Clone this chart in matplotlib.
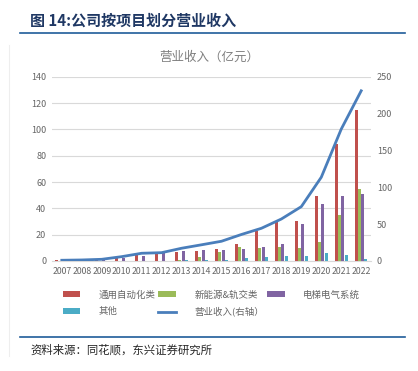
import matplotlib.pyplot as plt
import numpy as np

plt.rcParams['font.family'] = ['Noto Sans CJK SC', 'DejaVu Sans']

# data (亿元)
years = [str(y) for y in range(2007, 2023)]
automation = [0.8, 0.2, 1.0, 2.8, 4.6, 5.8, 7.1, 7.8, 9.1, 12.9, 22.6, 29.9, 30.7, 49.7, 89.0, 114.4]
new_energy = [0.0, 0.0, 0.1, 0.1, 0.2, 0.3, 1.0, 3.3, 7.1, 10.4, 9.5, 10.4, 9.7, 14.2, 35.0, 55.0]
elevator = [0.2, 0.2, 1.0, 2.3, 3.8, 6.3, 7.4, 8.6, 8.4, 9.1, 10.7, 13.2, 27.9, 43.0, 49.5, 51.0]
others = [0.0, 0.0, 0.1, 0.1, 0.2, 0.3, 0.5, 1.0, 1.0, 2.1, 2.8, 3.8, 3.8, 6.3, 4.6, 1.8]
revenue = [1.0, 1.4, 2.3, 5.9, 10.5, 11.3, 17.3, 22.0, 26.8, 36.0, 44.4, 57.0, 73.8, 113.7, 179.0, 231.0]

colours = {'通用自动化类': '#C0504D',
           '新能源&轨交类': '#9BBB59',
           '电梯电气系统': '#8064A2',
           '其他': '#4BACC6'}
series = {'通用自动化类': automation,
          '新能源&轨交类': new_energy,
          '电梯电气系统': elevator,
          '其他': others}

fig = plt.figure(figsize=(4.18, 3.71), dpi=100)
ax = fig.add_axes([0.124, 0.2965, 0.764, 0.4965])
ax2 = ax.twinx()

x = np.arange(len(years))
w = 0.15
offsets = [-0.25, -0.08, 0.08, 0.24]
bars = {}
for off, (name, vals) in zip(offsets, series.items()):
    bars[name] = ax.bar(x + off, vals, width=w, color=colours[name], zorder=3)

line, = ax2.plot(x, revenue, color='#4A7EBB', lw=2, zorder=4)

ax.set_xlim(-0.5, len(years) - 0.5)
ax.set_ylim(0, 140)
ax.set_yticks(range(0, 141, 20))
ax2.set_ylim(0, 250)
ax2.set_yticks(range(0, 251, 50))
ax.set_xticks(x)
ax.set_xticklabels(years)
ax.grid(axis='y', color='#D9D9D9', lw=0.8, zorder=0)
for a in (ax, ax2):
    for s in a.spines.values():
        s.set_visible(False)
    a.tick_params(length=0, labelsize=6.5, colors='#666666')
ax.spines['bottom'].set_visible(True)
ax.spines['bottom'].set_color('#D9D9D9')
ax.tick_params(axis='x', labelsize=6.3, pad=4)
ax.tick_params(axis='y', pad=4)
ax2.tick_params(axis='y', pad=4)

# titles
fig.text(0.072, 0.943, '图 14:公司按项目划分营业收入', fontsize=10.8, fontweight='bold',
         color='#1F3864', va='center')
fig.add_artist(plt.Line2D([0.048, 0.97], [0.911, 0.911], color='#1F5C99', lw=1.2))
fig.text(0.5, 0.846, '营业收入（亿元）', fontsize=9, color='#7F7F7F', ha='center', va='center')

# legend (column-major order)
handles = [bars['通用自动化类'], bars['其他'], bars['新能源&轨交类'], line, bars['电梯电气系统']]
labels = ['通用自动化类', '其他', '新能源&轨交类', '营业收入(右轴）', '电梯电气系统']
fig.legend(handles, labels, ncol=3, loc='center', bbox_to_anchor=(0.505, 0.182),
           frameon=False, fontsize=6.8, handlelength=1.9, handleheight=0.6,
           handletextpad=1.9, columnspacing=0.3, labelcolor='#666666', labelspacing=0.75)

fig.add_artist(plt.Line2D([0.048, 0.97], [0.092, 0.092], color='#1F5C99', lw=1.2))
fig.add_artist(plt.Line2D([0.022, 0.022], [0.04, 0.88], color='#EEEEEE', lw=0.8))
fig.text(0.072, 0.057, '资料来源：同花顺，东兴证券研究所', fontsize=8.2, style='italic',
         color='#262626', va='center')

fig.savefig('out.png', dpi=100)
